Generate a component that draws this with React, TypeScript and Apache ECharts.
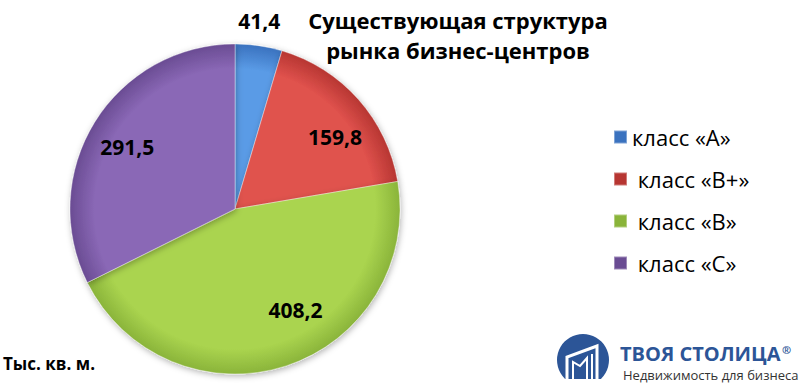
import React, { useEffect, useRef } from "react";
import * as echarts from "echarts";

const categories = ["класс «А»", " класс «В+»", " класс «В»", " класс «С»"];
const values = [41.4, 159.8, 408.2, 291.5];
const valueLabels = ["41,4", "159,8", "408,2", "291,5"];
const titleLines = ["Существующая структура", "рынка бизнес-центров"];
const unitLabel = "Тыс. кв. м.";
const brandName = "ТВОЯ СТОЛИЦА";
const brandTagline = "Недвижимость для бизнеса";

const CX = 235;
const CY = 209;
const R = 165;

const sliceColors = [
  { inner: "#5A9BE6", outer: "#3A72BF", legend: "#3E7CCB" },
  { inner: "#E0524D", outer: "#B73632", legend: "#C9403C" },
  { inner: "#AAD44F", outer: "#8AB43A", legend: "#98C245" },
  { inner: "#8A68B6", outer: "#6A4C93", legend: "#7858A5" },
];
const labelOffsets: [number, number][] = [
  [12, -103],
  [36, -15],
  [34, 20],
  [-35, -17],
];

const FONT = "'Open Sans', 'DejaVu Sans', sans-serif";

export default function App() {
  const ref = useRef<HTMLDivElement>(null);
  useEffect(() => {
    if (!ref.current) return;
    const chart = echarts.init(ref.current, null, { renderer: "svg" });
    const data = categories.map((name, i) => ({
      name,
      value: values[i],
      itemStyle: {
        color: {
          type: "radial",
          x: CX,
          y: CY,
          r: R,
          global: true,
          colorStops: [
            { offset: 0, color: sliceColors[i].inner },
            { offset: 0.85, color: sliceColors[i].inner },
            { offset: 1, color: sliceColors[i].outer },
          ],
        },
      },
      label: {
        offset: labelOffsets[i],
        formatter: valueLabels[i],
      },
    }));
    chart.setOption({
      animation: false,
      backgroundColor: "#ffffff",
      color: sliceColors.map((c) => c.legend),
      title: {
        text: titleLines.join("\n"),
        left: 458,
        top: 5,
        padding: 0,
        textAlign: "center",
        textStyle: {
          fontFamily: FONT,
          fontWeight: "bold",
          fontSize: 22,
          lineHeight: 30,
          color: "#000",
        },
      },
      legend: {
        orient: "vertical",
        left: 608,
        top: 120,
        icon: "rect",
        itemWidth: 13,
        itemHeight: 13,
        itemGap: 18,
        selectedMode: false,
        data: categories,
        textStyle: {
          fontFamily: FONT,
          fontSize: 22,
          lineHeight: 24,
          color: "#000",
        },
      },
      series: [
        {
          type: "pie",
          center: [CX, CY],
          radius: [0, R],
          startAngle: 90,
          clockwise: true,
          silent: true,
          data,
          itemStyle: {
            borderColor: "rgba(255,255,255,0.35)",
            borderWidth: 1,
            shadowBlur: 6,
            shadowColor: "rgba(0,0,0,0.3)",
            shadowOffsetX: 1,
            shadowOffsetY: 2,
          },
          label: {
            show: true,
            position: "inside",
            fontFamily: FONT,
            fontWeight: "bold",
            fontSize: 21,
            color: "#000",
          },
          labelLine: { show: false },
        },
      ],
      graphic: [
        {
          type: "text",
          left: 3,
          top: 355,
          style: {
            text: unitLabel,
            font: `bold 17px ${FONT}`,
            fill: "#000",
          },
        },
        {
          type: "circle",
          shape: { cx: 583, cy: 360, r: 26 },
          style: { fill: "#2C5597" },
        },
        {
          type: "rect",
          shape: { x: 550, y: 379, width: 66, height: 10 },
          style: { fill: "#ffffff" },
        },
        {
          type: "polyline",
          shape: { points: [[567, 379], [567, 357], [597, 346], [597, 379]] },
          style: { stroke: "#ffffff", lineWidth: 3, fill: "none" },
        },
        {
          type: "polyline",
          shape: { points: [[573, 379], [573, 362], [580, 366], [587, 358], [587, 379]] },
          style: { stroke: "#ffffff", lineWidth: 2, fill: "none" },
        },
        {
          type: "line",
          shape: { x1: 592, y1: 379, x2: 592, y2: 354 },
          style: { stroke: "#ffffff", lineWidth: 2 },
        },
        {
          type: "text",
          left: 620,
          top: 343,
          style: {
            text: brandName,
            font: `bold 20px ${FONT}`,
            lineHeight: 20,
            fill: "#2C5597",
          },
        },
        {
          type: "text",
          left: 782,
          top: 344,
          style: {
            text: "®",
            font: `bold 11px ${FONT}`,
            fill: "#2C5597",
          },
        },
        {
          type: "text",
          left: 623,
          top: 368,
          style: {
            text: brandTagline,
            font: `13px ${FONT}`,
            lineHeight: 13,
            fill: "#333333",
          },
        },
      ],
    });
    return () => chart.dispose();
  }, []);
  return (
    <div
      ref={ref}
      style={{ position: "fixed", left: 0, top: 0, width: 809, height: 387 }}
    />
  );
}
